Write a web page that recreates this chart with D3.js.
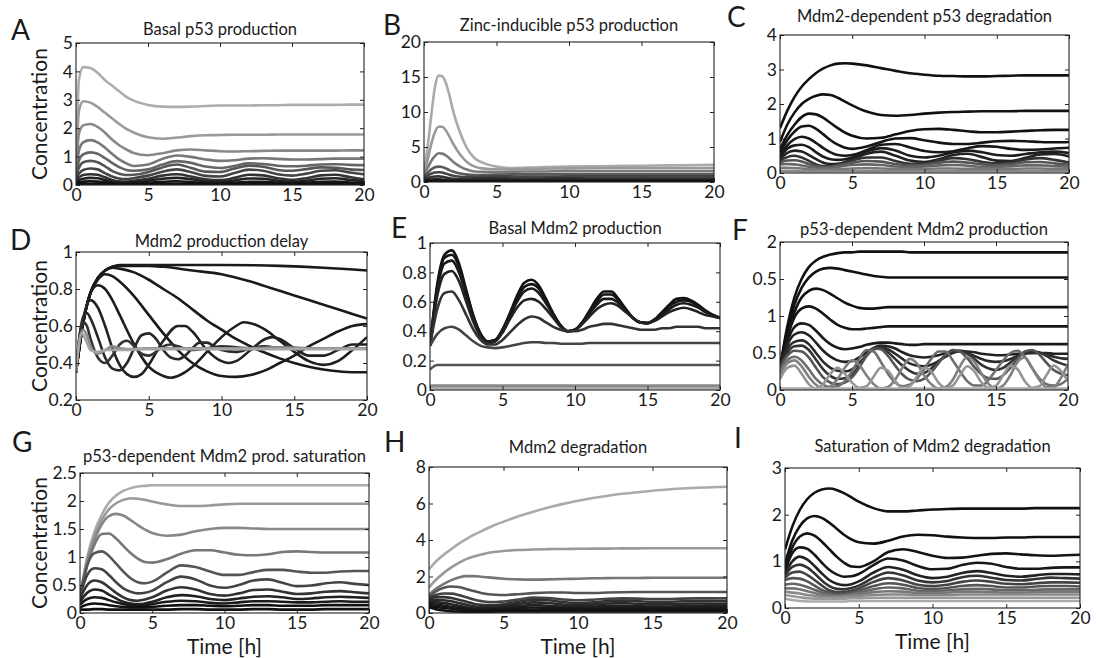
<!DOCTYPE html>
<html>
<head>
<meta charset="utf-8">
<script src="https://cdn.jsdelivr.net/npm/d3@7"></script>
<style>
  body { margin: 0; background: #fff; }
  svg text { font-family: Lato, "Open Sans", "DejaVu Sans", sans-serif; fill: #1a1a1a; }
</style>
</head>
<body>
<svg id="chart" width="1096" height="658"></svg>
<script>
// ---- data ----
const xTicks = [0, 5, 10, 15, 20];

// A: Basal p53 production
const tA = [0, 0.2, 0.5, 1, 1.5, 2, 2.5, 3, 3.5, 4, 5, 6, 7, 8, 9, 10, 11, 12, 13, 14, 15, 16, 17, 18, 19, 20];
const curvesA = [
  [0.3, 3.7, 4.15, 4.12, 3.95, 3.7, 3.5, 3.3, 3.1, 2.97, 2.82, 2.76, 2.75, 2.76, 2.78, 2.8, 2.8, 2.8, 2.81, 2.81, 2.82, 2.82, 2.82, 2.82, 2.83, 2.83],
  [0.3, 2.6, 2.95, 2.9, 2.75, 2.55, 2.35, 2.15, 1.98, 1.85, 1.68, 1.63, 1.67, 1.72, 1.75, 1.76, 1.77, 1.77, 1.77, 1.78, 1.78, 1.78, 1.78, 1.78, 1.78, 1.78],
  [0.3, 1.8, 2.1, 2.15, 2.05, 1.85, 1.6, 1.4, 1.25, 1.13, 1.05, 1.12, 1.22, 1.25, 1.22, 1.19, 1.18, 1.19, 1.2, 1.21, 1.21, 1.21, 1.21, 1.21, 1.22, 1.22],
  [0.3, 1.2, 1.5, 1.58, 1.5, 1.32, 1.1, 0.9, 0.76, 0.67, 0.72, 0.92, 1.04, 0.99, 0.9, 0.85, 0.87, 0.93, 0.94, 0.92, 0.9, 0.9, 0.91, 0.93, 0.93, 0.93],
  [0.3, 0.85, 1.08, 1.15, 1.1, 0.95, 0.78, 0.63, 0.53, 0.5, 0.55, 0.72, 0.84, 0.78, 0.65, 0.6, 0.67, 0.76, 0.74, 0.68, 0.66, 0.68, 0.72, 0.73, 0.71, 0.7],
  [0.3, 0.6, 0.8, 0.85, 0.8, 0.66, 0.5, 0.4, 0.35, 0.36, 0.45, 0.62, 0.72, 0.6, 0.47, 0.46, 0.58, 0.68, 0.64, 0.53, 0.5, 0.56, 0.62, 0.61, 0.55, 0.53],
  [0.25, 0.4, 0.53, 0.58, 0.55, 0.42, 0.3, 0.23, 0.21, 0.24, 0.33, 0.47, 0.55, 0.45, 0.32, 0.3, 0.42, 0.54, 0.5, 0.38, 0.33, 0.4, 0.5, 0.52, 0.44, 0.38],
  [0.2, 0.27, 0.35, 0.38, 0.36, 0.27, 0.18, 0.13, 0.12, 0.15, 0.22, 0.33, 0.38, 0.3, 0.2, 0.17, 0.25, 0.36, 0.34, 0.24, 0.18, 0.24, 0.34, 0.36, 0.28, 0.2],
  [0.15, 0.18, 0.22, 0.25, 0.24, 0.18, 0.12, 0.08, 0.08, 0.1, 0.15, 0.22, 0.25, 0.2, 0.13, 0.11, 0.16, 0.23, 0.22, 0.15, 0.12, 0.15, 0.22, 0.24, 0.18, 0.13],
  [0.1, 0.1, 0.12, 0.13, 0.12, 0.1, 0.07, 0.05, 0.05, 0.06, 0.08, 0.11, 0.13, 0.1, 0.07, 0.06, 0.08, 0.11, 0.11, 0.08, 0.06, 0.08, 0.11, 0.12, 0.09, 0.07],
  [0.04, 0.04, 0.04, 0.04, 0.04, 0.04, 0.03, 0.03, 0.03, 0.03, 0.03, 0.04, 0.04, 0.04, 0.03, 0.03, 0.03, 0.04, 0.04, 0.03, 0.03, 0.03, 0.04, 0.04, 0.04, 0.03]
];
const yTicksA = [0, 1, 2, 3, 4, 5];

// B: Zinc-inducible p53 production
const tB = [0, 0.25, 0.5, 0.75, 1, 1.25, 1.5, 1.75, 2, 2.5, 3, 3.5, 4, 5, 6, 7, 8, 10, 12, 14, 16, 18, 20];
const curvesB = [
  [1.5, 5, 9.5, 13.5, 15.2, 15.1, 14.2, 12.4, 10.2, 7.0, 4.7, 3.4, 2.8, 2.2, 2.0, 2.05, 2.1, 2.2, 2.25, 2.3, 2.35, 2.4, 2.45],
  [1.2, 3.2, 5.4, 7.1, 7.9, 7.9, 7.4, 6.5, 5.5, 3.9, 2.8, 2.2, 1.95, 1.8, 1.8, 1.85, 1.9, 1.95, 2.0, 2.0, 2.0, 2.0, 2.0],
  [1.0, 2.0, 3.0, 3.7, 4.1, 4.05, 3.8, 3.4, 2.9, 2.2, 1.75, 1.5, 1.45, 1.4, 1.45, 1.5, 1.5, 1.55, 1.55, 1.55, 1.55, 1.55, 1.55],
  [0.8, 1.3, 1.8, 2.1, 2.2, 2.15, 1.95, 1.7, 1.5, 1.2, 1.05, 1.0, 1.0, 1.05, 1.1, 1.1, 1.1, 1.1, 1.1, 1.1, 1.1, 1.1, 1.1],
  [0.6, 0.9, 1.2, 1.35, 1.4, 1.35, 1.2, 1.05, 0.9, 0.75, 0.7, 0.72, 0.78, 0.82, 0.8, 0.78, 0.78, 0.8, 0.8, 0.8, 0.8, 0.8, 0.8],
  [0.4, 0.55, 0.7, 0.78, 0.8, 0.76, 0.65, 0.52, 0.45, 0.4, 0.42, 0.48, 0.55, 0.55, 0.5, 0.48, 0.5, 0.52, 0.5, 0.5, 0.5, 0.5, 0.5],
  [0.25, 0.3, 0.35, 0.38, 0.38, 0.35, 0.3, 0.25, 0.22, 0.2, 0.22, 0.26, 0.3, 0.3, 0.27, 0.26, 0.28, 0.3, 0.28, 0.28, 0.29, 0.29, 0.28],
  [0.1, 0.1, 0.12, 0.13, 0.13, 0.12, 0.11, 0.1, 0.1, 0.1, 0.1, 0.1, 0.11, 0.11, 0.1, 0.1, 0.1, 0.1, 0.1, 0.1, 0.1, 0.1, 0.1]
];
const yTicksB = [0, 5, 10, 15, 20];

// C: Mdm2-dependent p53 degradation (also used as time grid for G, H, I)
const tC = [0, 0.5, 1, 1.5, 2, 2.5, 3, 3.5, 4, 4.5, 5, 6, 7, 8, 9, 10, 11, 12, 13, 14, 15, 16, 17, 18, 19, 20];
const curvesC = [
  [1.3, 1.8, 2.2, 2.5, 2.72, 2.9, 3.03, 3.12, 3.17, 3.18, 3.17, 3.12, 3.04, 2.96, 2.89, 2.85, 2.82, 2.81, 2.8, 2.8, 2.81, 2.82, 2.83, 2.83, 2.83, 2.83],
  [0.9, 1.4, 1.75, 2.0, 2.15, 2.24, 2.28, 2.26, 2.18, 2.07, 1.96, 1.78, 1.68, 1.66, 1.68, 1.72, 1.75, 1.77, 1.78, 1.79, 1.79, 1.79, 1.8, 1.8, 1.8, 1.8],
  [0.7, 1.1, 1.4, 1.62, 1.72, 1.7, 1.6, 1.45, 1.3, 1.17, 1.08, 1.0, 1.02, 1.12, 1.22, 1.27, 1.28, 1.25, 1.21, 1.18, 1.18, 1.2, 1.22, 1.24, 1.25, 1.25],
  [0.6, 0.95, 1.2, 1.35, 1.37, 1.28, 1.12, 0.95, 0.82, 0.73, 0.7, 0.77, 0.9, 1.0, 1.01, 0.95, 0.88, 0.84, 0.84, 0.88, 0.92, 0.93, 0.92, 0.9, 0.89, 0.9],
  [0.5, 0.8, 0.98, 1.05, 1.0, 0.87, 0.72, 0.6, 0.52, 0.5, 0.52, 0.66, 0.82, 0.84, 0.74, 0.64, 0.6, 0.63, 0.72, 0.78, 0.76, 0.7, 0.67, 0.68, 0.71, 0.73],
  [0.45, 0.7, 0.8, 0.82, 0.75, 0.6, 0.47, 0.4, 0.38, 0.4, 0.45, 0.62, 0.72, 0.65, 0.5, 0.45, 0.5, 0.6, 0.65, 0.6, 0.52, 0.5, 0.55, 0.6, 0.62, 0.58],
  [0.4, 0.58, 0.65, 0.62, 0.52, 0.4, 0.3, 0.26, 0.27, 0.32, 0.4, 0.56, 0.62, 0.5, 0.36, 0.32, 0.4, 0.52, 0.56, 0.46, 0.36, 0.35, 0.44, 0.54, 0.55, 0.48],
  [0.35, 0.46, 0.5, 0.45, 0.35, 0.25, 0.2, 0.2, 0.24, 0.3, 0.36, 0.45, 0.45, 0.35, 0.27, 0.28, 0.36, 0.43, 0.4, 0.32, 0.28, 0.31, 0.39, 0.43, 0.38, 0.3],
  [0.3, 0.36, 0.37, 0.33, 0.26, 0.2, 0.17, 0.18, 0.22, 0.26, 0.3, 0.35, 0.33, 0.26, 0.22, 0.24, 0.3, 0.33, 0.3, 0.25, 0.23, 0.26, 0.31, 0.32, 0.28, 0.24],
  [0.25, 0.26, 0.25, 0.22, 0.18, 0.15, 0.14, 0.15, 0.18, 0.21, 0.23, 0.25, 0.23, 0.19, 0.17, 0.19, 0.22, 0.23, 0.21, 0.18, 0.18, 0.2, 0.22, 0.22, 0.2, 0.18],
  [0.15, 0.15, 0.14, 0.13, 0.11, 0.1, 0.1, 0.1, 0.11, 0.12, 0.13, 0.14, 0.13, 0.12, 0.11, 0.12, 0.13, 0.13, 0.12, 0.12, 0.12, 0.12, 0.13, 0.13, 0.12, 0.12],
  [0.06, 0.06, 0.06, 0.05, 0.05, 0.05, 0.05, 0.05, 0.05, 0.05, 0.05, 0.05, 0.05, 0.05, 0.05, 0.05, 0.05, 0.05, 0.05, 0.05, 0.05, 0.05, 0.05, 0.05, 0.05, 0.05]
];
const yTicksC = [0, 1, 2, 3, 4];

// D: Mdm2 production delay ([time, value] pairs)
const curvesD = [
  [[0, 0.35], [0.5, 0.62], [1, 0.78], [1.5, 0.86], [2, 0.9], [2.5, 0.92], [3, 0.93], [5, 0.93], [10, 0.93], [14, 0.925], [17, 0.915], [20, 0.9]],
  [[0, 0.35], [0.5, 0.62], [1, 0.78], [1.5, 0.86], [2, 0.9], [2.5, 0.92], [3, 0.925], [5, 0.925], [6, 0.92], [8, 0.9], [10, 0.88], [12, 0.84], [14, 0.79], [16, 0.74], [18, 0.69], [20, 0.64]],
  [[0, 0.35], [0.5, 0.62], [1, 0.78], [1.5, 0.86], [2, 0.9], [2.5, 0.915], [3, 0.91], [4, 0.89], [5, 0.85], [6, 0.8], [7, 0.75], [8, 0.69], [9, 0.63], [10, 0.58], [11, 0.53], [12, 0.49], [13, 0.455], [14, 0.425], [15, 0.4], [16, 0.38], [17, 0.365], [18, 0.355], [19, 0.35], [20, 0.35]],
  [[0, 0.35], [0.5, 0.62], [1, 0.78], [1.5, 0.85], [2, 0.88], [2.5, 0.87], [3, 0.84], [4, 0.76], [5, 0.66], [6, 0.56], [7, 0.47], [8, 0.4], [9, 0.355], [10, 0.33], [11, 0.325], [12, 0.335], [13, 0.36], [14, 0.4], [15, 0.44], [16, 0.49], [17, 0.53], [18, 0.57], [19, 0.6], [20, 0.61]],
  [[0, 0.35], [0.5, 0.62], [1, 0.78], [1.5, 0.82], [2, 0.8], [2.5, 0.74], [3, 0.66], [4, 0.5], [5, 0.38], [6, 0.33], [6.5, 0.32], [7, 0.33], [8, 0.38], [9, 0.46], [10, 0.54], [11, 0.6], [11.5, 0.62], [12, 0.615], [13, 0.58], [14, 0.52], [15, 0.46], [16, 0.41], [17, 0.39], [18, 0.41], [19, 0.47], [20, 0.54]],
  [[0, 0.35], [0.5, 0.64], [1, 0.74], [1.5, 0.7], [2, 0.6], [2.5, 0.48], [3, 0.39], [3.5, 0.34], [4, 0.325], [4.5, 0.34], [5, 0.39], [6, 0.52], [7, 0.6], [7.5, 0.6], [8, 0.57], [9, 0.47], [10, 0.41], [10.5, 0.4], [11, 0.41], [12, 0.47], [13, 0.53], [13.5, 0.54], [14, 0.53], [15, 0.48], [16, 0.44], [17, 0.44], [18, 0.47], [19, 0.5], [20, 0.5]],
  [[0, 0.35], [0.25, 0.55], [0.5, 0.65], [0.75, 0.67], [1, 0.64], [1.5, 0.54], [2, 0.43], [2.5, 0.37], [3, 0.36], [3.5, 0.4], [4, 0.48], [4.5, 0.55], [5, 0.56], [5.5, 0.53], [6, 0.47], [6.5, 0.43], [7, 0.42], [7.5, 0.44], [8, 0.48], [8.5, 0.51], [9, 0.51], [9.5, 0.49], [10, 0.47], [11, 0.46], [12, 0.48], [13, 0.49], [14, 0.48], [16, 0.48], [18, 0.48], [20, 0.48]],
  [[0, 0.35], [0.25, 0.55], [0.5, 0.62], [0.75, 0.6], [1, 0.53], [1.5, 0.43], [2, 0.4], [2.5, 0.44], [3, 0.5], [3.5, 0.52], [4, 0.49], [4.5, 0.45], [5, 0.44], [5.5, 0.46], [6, 0.49], [6.5, 0.5], [7, 0.49], [8, 0.47], [9, 0.48], [10, 0.49], [12, 0.48], [14, 0.485], [16, 0.48], [18, 0.48], [20, 0.48]],
  [[0, 0.35], [0.25, 0.53], [0.5, 0.58], [0.75, 0.55], [1, 0.49], [1.5, 0.45], [2, 0.47], [2.5, 0.49], [3, 0.48], [4, 0.475], [5, 0.48], [6, 0.48], [8, 0.48], [10, 0.48], [12, 0.48], [14, 0.485], [16, 0.48], [18, 0.48], [20, 0.48]],
  [[0, 0.35], [0.2, 0.5], [0.4, 0.56], [0.7, 0.52], [1, 0.47], [1.5, 0.46], [2, 0.47], [3, 0.47], [5, 0.475], [8, 0.475], [12, 0.475], [16, 0.475], [20, 0.475]]
];
const yTicksD = [0.2, 0.4, 0.6, 0.8, 1];

// E and F share a half-hour time grid
const tHalf = [0, 0.5, 1, 1.5, 2, 2.5, 3, 3.5, 4, 4.5, 5, 5.5, 6, 6.5, 7, 7.5, 8, 8.5, 9, 9.5,
  10, 10.5, 11, 11.5, 12, 12.5, 13, 13.5, 14, 14.5, 15, 15.5, 16, 16.5, 17, 17.5, 18, 18.5, 19, 19.5, 20];

// E: Basal Mdm2 production
const curvesE = [
  [0.3, 0.72, 0.92, 0.95, 0.86, 0.68, 0.5, 0.38, 0.33, 0.34,
   0.41, 0.52, 0.64, 0.73, 0.75, 0.71, 0.62, 0.52, 0.44, 0.4,
   0.41, 0.46, 0.54, 0.62, 0.67, 0.67, 0.62, 0.55, 0.49, 0.46,
   0.455, 0.48, 0.53, 0.58, 0.62, 0.625, 0.61, 0.58, 0.54, 0.51, 0.49],
  [0.3, 0.7, 0.9, 0.92, 0.84, 0.67, 0.5, 0.38, 0.33, 0.34,
   0.41, 0.51, 0.62, 0.7, 0.72, 0.69, 0.61, 0.52, 0.44, 0.4,
   0.41, 0.46, 0.53, 0.6, 0.65, 0.65, 0.61, 0.55, 0.49, 0.46,
   0.455, 0.48, 0.52, 0.57, 0.6, 0.61, 0.6, 0.57, 0.54, 0.51, 0.49],
  [0.3, 0.68, 0.86, 0.88, 0.8, 0.64, 0.48, 0.37, 0.33, 0.34,
   0.4, 0.5, 0.6, 0.67, 0.69, 0.66, 0.59, 0.51, 0.44, 0.4,
   0.41, 0.45, 0.52, 0.58, 0.62, 0.62, 0.59, 0.54, 0.49, 0.46,
   0.455, 0.48, 0.51, 0.55, 0.58, 0.59, 0.58, 0.56, 0.53, 0.51, 0.49],
  [0.3, 0.64, 0.79, 0.81, 0.74, 0.6, 0.46, 0.36, 0.32, 0.33,
   0.39, 0.48, 0.56, 0.61, 0.62, 0.6, 0.55, 0.49, 0.43, 0.4,
   0.41, 0.45, 0.5, 0.55, 0.58, 0.59, 0.57, 0.53, 0.49, 0.46,
   0.455, 0.47, 0.5, 0.53, 0.55, 0.56, 0.55, 0.53, 0.51, 0.5, 0.49],
  [0.3, 0.55, 0.66, 0.67, 0.61, 0.51, 0.41, 0.34, 0.31, 0.31,
   0.34, 0.39, 0.44, 0.48, 0.5, 0.49, 0.46, 0.43, 0.41, 0.4,
   0.4, 0.41, 0.43, 0.44, 0.45, 0.45, 0.44, 0.43, 0.42, 0.41,
   0.41, 0.41, 0.42, 0.42, 0.43, 0.43, 0.43, 0.43, 0.42, 0.42, 0.42],
  [0.3, 0.38, 0.42, 0.43, 0.41, 0.37, 0.33, 0.3, 0.29, 0.285,
   0.29, 0.3, 0.31, 0.32, 0.325, 0.325, 0.32, 0.32, 0.315, 0.315,
   0.315, 0.315, 0.32, 0.32, 0.32, 0.32, 0.32, 0.32, 0.32, 0.32,
   0.32, 0.32, 0.32, 0.32, 0.32, 0.32, 0.32, 0.32, 0.32, 0.32, 0.32],
  [0.14, 0.17, 0.17, 0.17, 0.17, 0.17, 0.17, 0.17, 0.17, 0.17,
   0.17, 0.17, 0.17, 0.17, 0.17, 0.17, 0.17, 0.17, 0.17, 0.17,
   0.17, 0.17, 0.17, 0.17, 0.17, 0.17, 0.17, 0.17, 0.17, 0.17,
   0.17, 0.17, 0.17, 0.17, 0.17, 0.17, 0.17, 0.17, 0.17, 0.17, 0.17],
  [0.03, 0.03, 0.03, 0.03, 0.03, 0.03, 0.03, 0.03, 0.03, 0.03,
   0.03, 0.03, 0.03, 0.03, 0.03, 0.03, 0.03, 0.03, 0.03, 0.03,
   0.03, 0.03, 0.03, 0.03, 0.03, 0.03, 0.03, 0.03, 0.03, 0.03,
   0.03, 0.03, 0.03, 0.03, 0.03, 0.03, 0.03, 0.03, 0.03, 0.03, 0.03],
  [0.012, 0.012, 0.012, 0.012, 0.012, 0.012, 0.012, 0.012, 0.012, 0.012,
   0.012, 0.012, 0.012, 0.012, 0.012, 0.012, 0.012, 0.012, 0.012, 0.012,
   0.012, 0.012, 0.012, 0.012, 0.012, 0.012, 0.012, 0.012, 0.012, 0.012,
   0.012, 0.012, 0.012, 0.012, 0.012, 0.012, 0.012, 0.012, 0.012, 0.012, 0.012]
];
const yTicksE = [0, 0.2, 0.4, 0.6, 0.8, 1];

// F: p53-dependent Mdm2 production
const curvesF = [
  [0.3, 0.85, 1.25, 1.5, 1.66, 1.75, 1.8, 1.83, 1.85, 1.86,
   1.86, 1.87, 1.87, 1.87, 1.87, 1.87, 1.87, 1.87, 1.86, 1.86,
   1.86, 1.86, 1.86, 1.86, 1.86, 1.86, 1.86, 1.86, 1.86, 1.86,
   1.86, 1.86, 1.86, 1.86, 1.86, 1.86, 1.86, 1.86, 1.86, 1.86, 1.86],
  [0.3, 0.8, 1.15, 1.38, 1.52, 1.6, 1.64, 1.65, 1.64, 1.62,
   1.6, 1.58, 1.56, 1.54, 1.53, 1.52, 1.52, 1.52, 1.52, 1.52,
   1.52, 1.52, 1.52, 1.52, 1.52, 1.52, 1.52, 1.52, 1.52, 1.52,
   1.52, 1.52, 1.52, 1.52, 1.52, 1.52, 1.52, 1.52, 1.52, 1.52, 1.52],
  [0.3, 0.75, 1.05, 1.25, 1.34, 1.37, 1.35, 1.3, 1.24, 1.18,
   1.14, 1.11, 1.1, 1.1, 1.11, 1.12, 1.12, 1.12, 1.12, 1.12,
   1.12, 1.12, 1.12, 1.12, 1.12, 1.12, 1.12, 1.12, 1.12, 1.12,
   1.12, 1.12, 1.12, 1.12, 1.12, 1.12, 1.12, 1.12, 1.12, 1.12, 1.12],
  [0.3, 0.7, 0.98, 1.1, 1.13, 1.1, 1.03, 0.95, 0.88, 0.84,
   0.82, 0.82, 0.83, 0.84, 0.85, 0.86, 0.86, 0.86, 0.86, 0.86,
   0.86, 0.86, 0.86, 0.86, 0.86, 0.86, 0.86, 0.86, 0.86, 0.86,
   0.86, 0.86, 0.86, 0.86, 0.86, 0.86, 0.86, 0.86, 0.86, 0.86, 0.86],
  [0.3, 0.65, 0.85, 0.9, 0.88, 0.8, 0.7, 0.62, 0.57, 0.55,
   0.56, 0.58, 0.61, 0.63, 0.64, 0.64, 0.63, 0.62, 0.61, 0.61,
   0.62, 0.62, 0.62, 0.62, 0.62, 0.62, 0.62, 0.62, 0.62, 0.62,
   0.62, 0.62, 0.62, 0.62, 0.62, 0.62, 0.62, 0.62, 0.62, 0.62, 0.62],
  [0.3, 0.6, 0.75, 0.78, 0.74, 0.64, 0.53, 0.45, 0.4, 0.38,
   0.39, 0.44, 0.51, 0.57, 0.6, 0.59, 0.56, 0.51, 0.47, 0.45,
   0.44, 0.45, 0.47, 0.5, 0.52, 0.53, 0.52, 0.51, 0.49, 0.48,
   0.47, 0.47, 0.48, 0.49, 0.5, 0.5, 0.5, 0.5, 0.49, 0.49, 0.49],
  [0.3, 0.55, 0.65, 0.67, 0.62, 0.5, 0.38, 0.3, 0.26, 0.25,
   0.28, 0.36, 0.47, 0.56, 0.58, 0.55, 0.49, 0.42, 0.36, 0.33,
   0.32, 0.34, 0.39, 0.45, 0.5, 0.52, 0.5, 0.46, 0.42, 0.39,
   0.38, 0.39, 0.42, 0.46, 0.49, 0.5, 0.5, 0.48, 0.45, 0.43, 0.42],
  [0.3, 0.5, 0.59, 0.6, 0.54, 0.41, 0.28, 0.19, 0.15, 0.16,
   0.21, 0.32, 0.46, 0.55, 0.56, 0.51, 0.42, 0.33, 0.26, 0.22,
   0.23, 0.29, 0.38, 0.47, 0.52, 0.53, 0.49, 0.42, 0.34, 0.29,
   0.27, 0.3, 0.37, 0.45, 0.5, 0.52, 0.51, 0.46, 0.4, 0.36, 0.33],
  [0.3, 0.46, 0.53, 0.52, 0.44, 0.3, 0.17, 0.1, 0.08, 0.1,
   0.17, 0.3, 0.46, 0.56, 0.55, 0.46, 0.33, 0.21, 0.14, 0.12,
   0.15, 0.24, 0.36, 0.48, 0.54, 0.52, 0.43, 0.31, 0.21, 0.16,
   0.15, 0.2, 0.3, 0.42, 0.52, 0.54, 0.48, 0.37, 0.27, 0.22, 0.2],
  [0.25, 0.4, 0.45, 0.4, 0.28, 0.15, 0.07, 0.04, 0.05, 0.12,
   0.25, 0.42, 0.54, 0.52, 0.38, 0.22, 0.1, 0.05, 0.07, 0.15,
   0.28, 0.42, 0.52, 0.52, 0.4, 0.25, 0.12, 0.06, 0.06, 0.14,
   0.27, 0.4, 0.5, 0.53, 0.45, 0.3, 0.16, 0.08, 0.06, 0.08, 0.15],
  [0.2, 0.36, 0.4, 0.32, 0.18, 0.07, 0.02, 0.05, 0.15, 0.3,
   0.4, 0.34, 0.2, 0.08, 0.02, 0.04, 0.14, 0.3, 0.42, 0.36,
   0.2, 0.08, 0.02, 0.04, 0.14, 0.32, 0.45, 0.38, 0.22, 0.08,
   0.02, 0.06, 0.2, 0.38, 0.44, 0.3, 0.14, 0.04, 0.04, 0.16, 0.35],
  [0.15, 0.3, 0.33, 0.22, 0.08, 0.02, 0.08, 0.22, 0.3, 0.22,
   0.1, 0.03, 0.05, 0.18, 0.3, 0.26, 0.12, 0.03, 0.05, 0.18,
   0.3, 0.25, 0.1, 0.03, 0.06, 0.2, 0.32, 0.25, 0.1, 0.03,
   0.06, 0.2, 0.33, 0.28, 0.12, 0.03, 0.05, 0.2, 0.33, 0.26, 0.12],
  [0.02, 0.02, 0.02, 0.02, 0.02, 0.02, 0.02, 0.02, 0.02, 0.02,
   0.02, 0.02, 0.02, 0.02, 0.02, 0.02, 0.02, 0.02, 0.02, 0.02,
   0.02, 0.02, 0.02, 0.02, 0.02, 0.02, 0.02, 0.02, 0.02, 0.02,
   0.02, 0.02, 0.02, 0.02, 0.02, 0.02, 0.02, 0.02, 0.02, 0.02, 0.02]
];
const yTicksF = [0, 0.5, 1, 1.5, 2];
const yTickLabelsF = ["0", "0.5", "1", "0.5", "2"];

// G: p53-dependent Mdm2 prod. saturation
const curvesG = [
  [0.3, 1.0, 1.45, 1.75, 1.97, 2.1, 2.18, 2.23, 2.26, 2.27, 2.28, 2.28, 2.28, 2.28, 2.28, 2.28, 2.28, 2.28, 2.28, 2.28, 2.28, 2.28, 2.28, 2.28, 2.28, 2.28],
  [0.3, 0.95, 1.38, 1.66, 1.85, 1.96, 2.02, 2.05, 2.04, 2.02, 1.99, 1.94, 1.91, 1.91, 1.92, 1.94, 1.95, 1.95, 1.95, 1.95, 1.95, 1.95, 1.95, 1.95, 1.95, 1.95],
  [0.3, 0.9, 1.3, 1.58, 1.73, 1.77, 1.74, 1.66, 1.57, 1.49, 1.43, 1.38, 1.4, 1.46, 1.5, 1.52, 1.52, 1.51, 1.5, 1.5, 1.5, 1.5, 1.5, 1.5, 1.5, 1.5],
  [0.3, 0.85, 1.22, 1.41, 1.42, 1.33, 1.2, 1.07, 0.97, 0.91, 0.9, 0.96, 1.06, 1.12, 1.12, 1.08, 1.04, 1.03, 1.05, 1.09, 1.1, 1.09, 1.08, 1.08, 1.08, 1.08],
  [0.3, 0.85, 1.07, 1.1, 1.02, 0.88, 0.74, 0.62, 0.55, 0.53, 0.56, 0.72, 0.85, 0.82, 0.74, 0.68, 0.68, 0.73, 0.77, 0.77, 0.74, 0.72, 0.72, 0.74, 0.75, 0.75],
  [0.3, 0.68, 0.8, 0.78, 0.68, 0.55, 0.44, 0.38, 0.35, 0.36, 0.4, 0.55, 0.65, 0.6, 0.49, 0.45, 0.5, 0.58, 0.6, 0.54, 0.48, 0.49, 0.53, 0.55, 0.52, 0.5],
  [0.25, 0.5, 0.58, 0.55, 0.46, 0.36, 0.28, 0.23, 0.22, 0.24, 0.28, 0.4, 0.46, 0.42, 0.34, 0.31, 0.35, 0.41, 0.42, 0.38, 0.34, 0.35, 0.38, 0.39, 0.37, 0.35],
  [0.2, 0.36, 0.42, 0.4, 0.33, 0.26, 0.2, 0.17, 0.16, 0.17, 0.2, 0.28, 0.32, 0.3, 0.25, 0.23, 0.26, 0.29, 0.3, 0.28, 0.25, 0.26, 0.28, 0.29, 0.28, 0.27],
  [0.15, 0.25, 0.28, 0.27, 0.23, 0.19, 0.16, 0.14, 0.13, 0.14, 0.16, 0.2, 0.22, 0.21, 0.18, 0.17, 0.19, 0.21, 0.21, 0.2, 0.19, 0.19, 0.2, 0.21, 0.2, 0.2],
  [0.1, 0.15, 0.17, 0.16, 0.14, 0.12, 0.11, 0.1, 0.1, 0.1, 0.11, 0.13, 0.14, 0.14, 0.13, 0.12, 0.13, 0.14, 0.14, 0.13, 0.13, 0.13, 0.14, 0.14, 0.14, 0.14],
  [0.06, 0.06, 0.07, 0.07, 0.06, 0.06, 0.06, 0.06, 0.06, 0.06, 0.06, 0.06, 0.07, 0.07, 0.06, 0.06, 0.06, 0.07, 0.07, 0.06, 0.06, 0.06, 0.07, 0.07, 0.07, 0.07]
];
const yTicksG = [0, 0.5, 1, 1.5, 2, 2.5];

// H: Mdm2 degradation
const curvesH = [
  [2.4, 2.85, 3.2, 3.5, 3.8, 4.05, 4.28, 4.48, 4.67, 4.85, 5.0, 5.3, 5.55, 5.78, 5.98, 6.15, 6.3, 6.42, 6.53, 6.62, 6.7, 6.77, 6.82, 6.86, 6.89, 6.92],
  [1.4, 1.85, 2.2, 2.5, 2.75, 2.95, 3.1, 3.2, 3.3, 3.36, 3.4, 3.45, 3.48, 3.5, 3.51, 3.52, 3.53, 3.53, 3.54, 3.54, 3.55, 3.55, 3.55, 3.55, 3.55, 3.55],
  [1.0, 1.35, 1.6, 1.8, 1.95, 2.02, 2.02, 1.99, 1.95, 1.91, 1.88, 1.84, 1.83, 1.84, 1.86, 1.88, 1.9, 1.91, 1.92, 1.92, 1.93, 1.93, 1.93, 1.93, 1.93, 1.93],
  [0.9, 1.2, 1.38, 1.45, 1.42, 1.32, 1.2, 1.1, 1.03, 1.0, 0.99, 1.03, 1.09, 1.12, 1.12, 1.1, 1.1, 1.12, 1.14, 1.15, 1.15, 1.15, 1.15, 1.15, 1.15, 1.15],
  [0.85, 1.0, 1.07, 1.06, 0.98, 0.86, 0.74, 0.65, 0.6, 0.6, 0.63, 0.74, 0.84, 0.82, 0.74, 0.7, 0.73, 0.78, 0.8, 0.79, 0.77, 0.77, 0.79, 0.8, 0.8, 0.8],
  [0.8, 0.87, 0.87, 0.82, 0.73, 0.61, 0.51, 0.45, 0.43, 0.44, 0.48, 0.62, 0.73, 0.7, 0.6, 0.55, 0.58, 0.65, 0.68, 0.65, 0.61, 0.61, 0.64, 0.66, 0.65, 0.64],
  [0.7, 0.72, 0.7, 0.64, 0.55, 0.45, 0.37, 0.33, 0.32, 0.34, 0.38, 0.5, 0.58, 0.55, 0.46, 0.42, 0.46, 0.52, 0.54, 0.5, 0.47, 0.48, 0.51, 0.52, 0.51, 0.5],
  [0.6, 0.58, 0.54, 0.48, 0.4, 0.32, 0.26, 0.24, 0.24, 0.27, 0.3, 0.38, 0.43, 0.4, 0.34, 0.32, 0.35, 0.39, 0.4, 0.37, 0.35, 0.36, 0.38, 0.39, 0.38, 0.37],
  [0.5, 0.45, 0.4, 0.34, 0.28, 0.22, 0.18, 0.17, 0.18, 0.2, 0.22, 0.27, 0.3, 0.28, 0.25, 0.24, 0.26, 0.28, 0.28, 0.27, 0.26, 0.26, 0.27, 0.28, 0.27, 0.27],
  [0.4, 0.33, 0.28, 0.23, 0.19, 0.16, 0.14, 0.13, 0.13, 0.14, 0.15, 0.17, 0.18, 0.18, 0.17, 0.17, 0.17, 0.18, 0.18, 0.18, 0.18, 0.18, 0.18, 0.18, 0.18, 0.18],
  [0.3, 0.2, 0.14, 0.1, 0.08, 0.07, 0.07, 0.07, 0.07, 0.08, 0.08, 0.09, 0.09, 0.09, 0.09, 0.09, 0.09, 0.09, 0.09, 0.09, 0.09, 0.09, 0.09, 0.09, 0.09, 0.09]
];
const yTicksH = [0, 2, 4, 6, 8];

// I: Saturation of Mdm2 degradation
const curvesI = [
  [1.25, 1.75, 2.1, 2.33, 2.47, 2.54, 2.56, 2.53, 2.46, 2.37, 2.28, 2.14, 2.07, 2.07, 2.09, 2.11, 2.12, 2.13, 2.13, 2.13, 2.13, 2.13, 2.14, 2.14, 2.14, 2.14],
  [0.95, 1.45, 1.75, 1.92, 1.97, 1.93, 1.83, 1.7, 1.57, 1.47, 1.41, 1.38, 1.44, 1.53, 1.57, 1.56, 1.53, 1.51, 1.5, 1.5, 1.51, 1.51, 1.52, 1.52, 1.52, 1.52],
  [0.85, 1.3, 1.53, 1.6, 1.55, 1.42, 1.26, 1.1, 0.97, 0.89, 0.88, 1.0, 1.2, 1.26, 1.2, 1.12, 1.07, 1.08, 1.12, 1.16, 1.17, 1.15, 1.13, 1.12, 1.13, 1.14],
  [0.8, 1.18, 1.3, 1.27, 1.14, 0.97, 0.82, 0.72, 0.67, 0.68, 0.73, 0.92, 1.06, 1.02, 0.9, 0.83, 0.84, 0.92, 0.97, 0.95, 0.88, 0.84, 0.84, 0.86, 0.87, 0.87],
  [0.75, 1.0, 1.1, 1.04, 0.9, 0.74, 0.6, 0.52, 0.49, 0.51, 0.57, 0.76, 0.88, 0.82, 0.7, 0.64, 0.67, 0.75, 0.79, 0.75, 0.69, 0.67, 0.7, 0.73, 0.73, 0.72],
  [0.7, 0.88, 0.93, 0.87, 0.74, 0.59, 0.47, 0.41, 0.4, 0.43, 0.48, 0.65, 0.76, 0.7, 0.59, 0.55, 0.58, 0.66, 0.69, 0.65, 0.6, 0.59, 0.62, 0.65, 0.64, 0.63],
  [0.65, 0.76, 0.78, 0.71, 0.6, 0.48, 0.38, 0.34, 0.34, 0.37, 0.42, 0.56, 0.64, 0.59, 0.5, 0.47, 0.5, 0.56, 0.59, 0.56, 0.52, 0.51, 0.53, 0.55, 0.55, 0.54],
  [0.6, 0.64, 0.63, 0.57, 0.48, 0.39, 0.33, 0.3, 0.3, 0.33, 0.37, 0.47, 0.53, 0.5, 0.43, 0.41, 0.43, 0.47, 0.49, 0.47, 0.44, 0.44, 0.46, 0.47, 0.47, 0.46],
  [0.5, 0.52, 0.5, 0.45, 0.39, 0.33, 0.29, 0.27, 0.28, 0.3, 0.33, 0.4, 0.44, 0.42, 0.37, 0.36, 0.38, 0.4, 0.41, 0.4, 0.38, 0.38, 0.39, 0.4, 0.4, 0.4],
  [0.42, 0.42, 0.4, 0.36, 0.32, 0.28, 0.26, 0.25, 0.26, 0.28, 0.3, 0.34, 0.36, 0.35, 0.32, 0.32, 0.33, 0.35, 0.35, 0.34, 0.33, 0.33, 0.34, 0.35, 0.35, 0.35],
  [0.35, 0.33, 0.31, 0.28, 0.26, 0.24, 0.23, 0.23, 0.24, 0.25, 0.26, 0.28, 0.29, 0.29, 0.28, 0.28, 0.28, 0.29, 0.29, 0.29, 0.29, 0.29, 0.29, 0.29, 0.29, 0.29],
  [0.28, 0.25, 0.23, 0.21, 0.2, 0.2, 0.2, 0.2, 0.2, 0.21, 0.21, 0.22, 0.22, 0.22, 0.22, 0.22, 0.22, 0.22, 0.22, 0.22, 0.22, 0.22, 0.22, 0.22, 0.22, 0.22],
  [0.2, 0.17, 0.15, 0.14, 0.14, 0.14, 0.14, 0.14, 0.14, 0.15, 0.15, 0.15, 0.15, 0.15, 0.15, 0.15, 0.15, 0.15, 0.15, 0.15, 0.15, 0.15, 0.15, 0.15, 0.15, 0.15]
];
const yTicksI = [0, 1, 2, 3];

// ---- layout / styling ----
const panels = [
  { letter: "A", title: "Basal p53 production", t: tA, curves: curvesA, yDomain: [0, 5], yTicks: yTicksA,
    box: [76, 43, 364, 185], letterAt: [11, 40], titleY: 35, ylabel: true,
    shades: ["#adadad", "#9a9a9a", "#888", "#777", "#666", "#555", "#444", "#333", "#222", "#151515", "#111"] },
  { letter: "B", title: "Zinc-inducible p53 production", t: tB, curves: curvesB, yDomain: [0, 20], yTicks: yTicksB,
    box: [424, 42, 714, 182], letterAt: [383, 35], titleY: 31,
    shades: ["#aaa", "#999", "#7a7a7a", "#5a5a5a", "#444", "#333", "#222", "#111"] },
  { letter: "C", title: "Mdm2-dependent p53 degradation", t: tC, curves: curvesC, yDomain: [0, 4], yTicks: yTicksC,
    box: [780, 35, 1069, 173], letterAt: [727, 27], titleY: 22,
    shades: ["#111", "#111", "#111", "#141414", "#181818", "#1c1c1c", "#222", "#333", "#555", "#666", "#777", "#888"] },
  { letter: "D", title: "Mdm2 production delay", curves: curvesD, yDomain: [0.2, 1], yTicks: yTicksD,
    box: [76, 252, 367, 400], letterAt: [10, 250], titleY: 247, ylabel: true,
    shades: ["#1a1a1a", "#1a1a1a", "#1a1a1a", "#1a1a1a", "#1e1e1e", "#222", "#282828", "#333", "#8a8a8a", "#a5a5a5"] },
  { letter: "E", title: "Basal Mdm2 production", t: tHalf, curves: curvesE, yDomain: [0, 1], yTicks: yTicksE,
    box: [430, 243, 720, 390], letterAt: [391, 238], titleY: 234,
    shades: ["#111", "#151515", "#1a1a1a", "#222", "#333", "#444", "#555", "#888", "#aaa"] },
  { letter: "F", title: "p53-dependent Mdm2 production", t: tHalf, curves: curvesF, yDomain: [0, 2], yTicks: yTicksF,
    yLabels: yTickLabelsF,
    box: [780, 242, 1068, 390], letterAt: [732, 240], titleY: 235,
    shades: ["#111", "#111", "#111", "#151515", "#1a1a1a", "#222", "#2a2a2a", "#333", "#555", "#6e6e6e", "#808080", "#959595", "#aaa"] },
  { letter: "G", title: "p53-dependent Mdm2 prod. saturation", t: tC, curves: curvesG, yDomain: [0, 2.5], yTicks: yTicksG,
    box: [80, 473, 369, 613], letterAt: [12, 452], titleY: 462, ylabel: true, xlabel: true,
    shades: ["#aaa", "#999", "#888", "#777", "#555", "#444", "#333", "#222", "#1a1a1a", "#111", "#111"] },
  { letter: "H", title: "Mdm2 degradation", t: tC, curves: curvesH, yDomain: [0, 8], yTicks: yTicksH,
    box: [429, 467, 727, 613], letterAt: [384, 452], titleY: 453, xlabel: true,
    shades: ["#aaa", "#999", "#777", "#555", "#444", "#333", "#2a2a2a", "#222", "#1a1a1a", "#151515", "#111"] },
  { letter: "I", title: "Saturation of Mdm2 degradation", t: tC, curves: curvesI, yDomain: [0, 3], yTicks: yTicksI,
    box: [785, 468, 1080, 608], letterAt: [734, 448], titleY: 452, xlabel: true,
    shades: ["#111", "#111", "#141414", "#181818", "#222", "#333", "#444", "#555", "#666", "#777", "#888", "#999", "#aaa"] }
];

const svg = d3.select("#chart");
const fmt = d => String(d);

panels.forEach((p, pi) => {
  const [x0, y0, x1, y1] = p.box;
  const x = d3.scaleLinear().domain([0, 20]).range([x0, x1]);
  const y = d3.scaleLinear().domain(p.yDomain).range([y1, y0]);
  const g = svg.append("g");

  g.append("clipPath").attr("id", "clip" + pi)
    .append("rect").attr("x", x0).attr("y", y0).attr("width", x1 - x0).attr("height", y1 - y0);

  const line = d3.line()
    .x(d => x(d[0]))
    .y(d => y(d[1]))
    .curve(d3.curveMonotoneX);

  const lines = g.append("g").attr("clip-path", `url(#clip${pi})`);
  p.curves.forEach((c, i) => {
    const pts = typeof c[0] === "number" ? c.map((v, j) => [p.t[j], v]) : c;
    lines.append("path")
      .attr("d", line(pts))
      .attr("fill", "none")
      .attr("stroke", p.shades[i])
      .attr("stroke-width", 2.6)
      .attr("stroke-linejoin", "round");
  });

  // axes, matlab style: inward ticks on all four sides
  const bottom = g.append("g").attr("transform", `translate(0,${y1})`)
    .call(d3.axisBottom(x).tickValues(xTicks).tickFormat(fmt).tickSizeInner(-4).tickSizeOuter(0).tickPadding(4));
  const top = g.append("g").attr("transform", `translate(0,${y0})`)
    .call(d3.axisTop(x).tickValues(xTicks).tickFormat("").tickSizeInner(-4).tickSizeOuter(0));
  const left = g.append("g").attr("transform", `translate(${x0},0)`)
    .call(d3.axisLeft(y).tickValues(p.yTicks)
      .tickFormat((d, i) => p.yLabels ? p.yLabels[i] : fmt(d))
      .tickSizeInner(-4).tickSizeOuter(0).tickPadding(3));
  const right = g.append("g").attr("transform", `translate(${x1},0)`)
    .call(d3.axisRight(y).tickValues(p.yTicks).tickFormat("").tickSizeInner(-4).tickSizeOuter(0));

  [bottom, top, left, right].forEach(a => {
    a.select(".domain").remove();
    a.selectAll("line").attr("stroke", "#222").attr("stroke-width", 1);
    a.selectAll("text").attr("font-family", null).attr("font-size", 17.5).attr("fill", "#1a1a1a");
  });

  g.append("rect")
    .attr("x", x0).attr("y", y0).attr("width", x1 - x0).attr("height", y1 - y0)
    .attr("fill", "none").attr("stroke", "#222").attr("stroke-width", 1.1);

  g.append("text")
    .attr("x", (x0 + x1) / 2).attr("y", p.titleY)
    .attr("text-anchor", "middle").attr("font-size", 16.5)
    .text(p.title);

  g.append("text")
    .attr("x", p.letterAt[0]).attr("y", p.letterAt[1])
    .attr("font-size", 28)
    .text(p.letter);

  if (p.ylabel) {
    g.append("text")
      .attr("transform", `translate(47,${(y0 + y1) / 2}) rotate(-90)`)
      .attr("text-anchor", "middle").attr("font-size", 21)
      .text("Concentration");
  }
  if (p.xlabel) {
    g.append("text")
      .attr("x", (x0 + x1) / 2).attr("y", y1 + 41)
      .attr("text-anchor", "middle").attr("font-size", 21)
      .text("Time [h]");
  }
});
</script>
</body>
</html>
